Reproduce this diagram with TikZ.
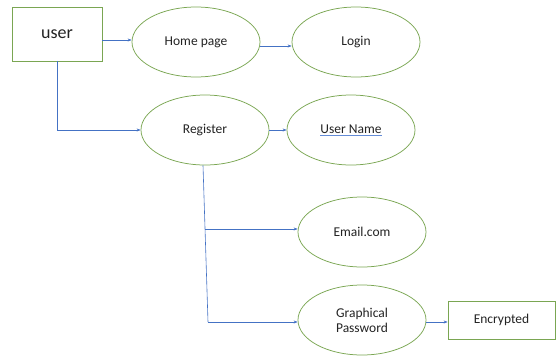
\documentclass[tikz,border=0pt]{standalone}
\usepackage{fontspec}
\setmainfont{Carlito}
\usetikzlibrary{shapes.geometric,arrows.meta}
\definecolor{boxgreen}{RGB}{122,166,82}
\definecolor{arrowblue}{RGB}{68,114,196}
\definecolor{lineblue}{RGB}{100,140,215}
\definecolor{inktext}{RGB}{35,35,35}
\newcommand\blueunder[1]{\setbox0\hbox{#1}\rlap{\color{lineblue}\rule[-2.5pt]{\wd0}{1pt}}\box0}
\begin{document}
\begin{tikzpicture}[x=1pt,y=-1pt,text=inktext,
  usecase/.style={ellipse,draw=boxgreen,line width=0.75pt,minimum width=128pt,minimum height=70pt,inner sep=0pt,font=\fontsize{13.5}{15}\selectfont,align=center},
  actor/.style={rectangle,draw=boxgreen,line width=0.75pt,inner sep=0pt},
  flow/.style={draw=arrowblue,line width=0.6pt,-{Stealth[length=4pt,width=3pt]}}]
\useasboundingbox (0,0) rectangle (556,356);
\node[actor,minimum width=90pt,minimum height=54pt,font=\fontsize{18}{20}\selectfont] (user) at (57,34) {user};
\node[usecase] (home) at (196,42) {Home page};
\node[usecase] (login) at (356,42) {Login};
\node[usecase] (reg) at (205,130) {Register};
\node[usecase] (uname) at (351,130) {\blueunder{User Name}};
\node[usecase] (email) at (362,232) {Email.com};
\node[usecase] (gp) at (362,320) {Graphical\\Password};
\node[actor,minimum width=107pt,minimum height=38pt,font=\fontsize{13.5}{15}\selectfont] (enc) at (501.5,320) {Encrypted};
\coordinate (fork) at (205,229);
\coordinate (bend) at (208,322);
\draw[flow] ([yshift=2pt]home.west -| user.east) -- ([yshift=2pt]home.west);
\draw[flow] ([yshift=-4pt]home.east) -- ([yshift=-4pt]login.west);
\draw[flow] (user.south) |- (reg.west);
\draw[flow] (reg.east) -- (uname.west);
\draw[draw=arrowblue,line width=0.6pt] ([xshift=-2pt]reg.south) -- (bend);
\draw[flow] (fork) -- ([yshift=3pt]email.west);
\draw[flow] (bend) -- ([yshift=-2pt]gp.west);
\draw[flow] ([yshift=-2pt]gp.east) -- ([yshift=-2pt]enc.west);
\end{tikzpicture}
\end{document}
